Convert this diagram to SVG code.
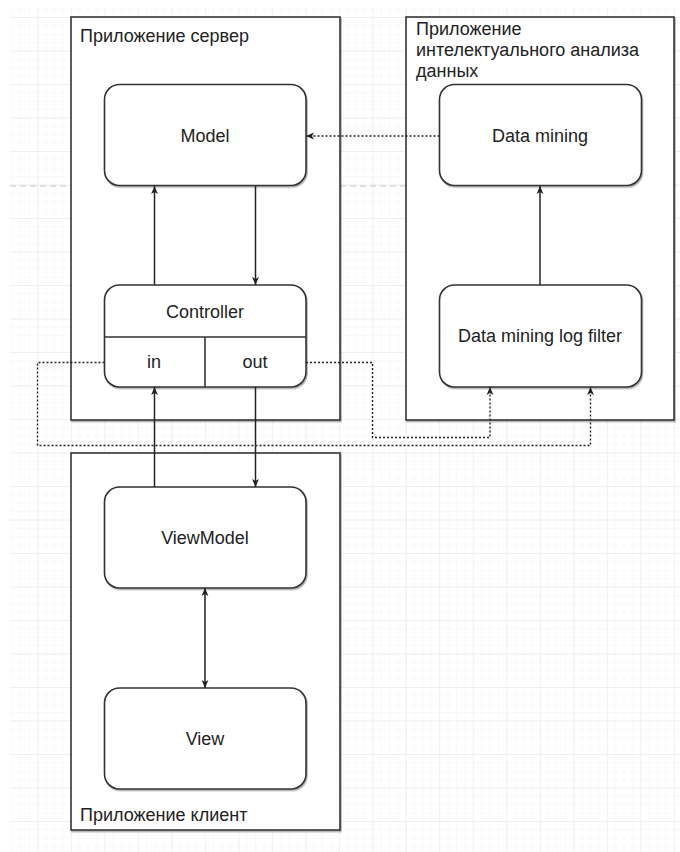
<svg xmlns="http://www.w3.org/2000/svg" width="680" height="852" viewBox="0 0 680 852">
  <defs>
    <pattern id="gridMinor" patternUnits="userSpaceOnUse" x="37.3" y="17" width="8.375" height="8.375">
      <path d="M0,0 H8.375 M0,0 V8.375" fill="none" stroke="#f3f3f3" stroke-width="1"/>
    </pattern>
    <pattern id="gridMajor" patternUnits="userSpaceOnUse" x="37.3" y="17" width="33.5" height="33.5">
      <path d="M0,0 H33.5 M0,0 V33.5" fill="none" stroke="#e6e6e6" stroke-width="1"/>
    </pattern>
    <filter id="shadow" x="-5%" y="-5%" width="115%" height="115%">
      <feDropShadow dx="1" dy="1.5" stdDeviation="0.7" flood-color="#000" flood-opacity="0.3"/>
    </filter>
    <marker id="arrow" viewBox="0 0 8 8" markerUnits="userSpaceOnUse" markerWidth="8" markerHeight="8" refX="8" refY="4" orient="auto-start-reverse">
      <path d="M0,0.6 L8,4 L0,7.4 L2,4 Z" fill="#222"/>
    </marker>
  </defs>
  <style>
    .container { fill: #ffffff; stroke: #333333; stroke-width: 1.6; }
    .node { fill: #ffffff; stroke: #333333; stroke-width: 1.6; }
    .divider { fill: none; stroke: #333333; stroke-width: 1.6; }
    .title { font-family: "Liberation Sans", Arial, sans-serif; font-size: 18px; fill: #222222; }
    .label { font-family: "Liberation Sans", Arial, sans-serif; font-size: 18px; fill: #222222; text-anchor: middle; }
    .link { fill: none; stroke: #222222; stroke-width: 1.5; marker-end: url(#arrow); }
    .dotted { fill: none; stroke: #222222; stroke-width: 1.4; stroke-dasharray: 2 2; }
  </style>

  <!-- canvas background with grid -->
  <rect x="0" y="0" width="680" height="852" fill="#ffffff"/>
  <rect x="10" y="8" width="670" height="844" fill="url(#gridMinor)"/>
  <rect x="10" y="8" width="670" height="844" fill="url(#gridMajor)"/>
  <!-- page break -->
  <line x1="10" y1="186" x2="680" y2="186" stroke="#c4c4c4" stroke-width="1" stroke-dasharray="6 4"/>

  <!-- application containers -->
  <g id="server-app">
    <rect class="container" x="71" y="17" width="269" height="403" filter="url(#shadow)"/>
    <text class="title" x="80" y="42">Приложение сервер</text>
  </g>
  <g id="mining-app">
    <rect class="container" x="406" y="17" width="268" height="403" filter="url(#shadow)"/>
    <text class="title" x="416" y="35">Приложение</text>
    <text class="title" x="416" y="56">интелектуального анализа</text>
    <text class="title" x="416" y="77">данных</text>
  </g>
  <g id="client-app">
    <rect class="container" x="71" y="453" width="269" height="377" filter="url(#shadow)"/>
    <text class="title" x="80" y="821">Приложение клиент</text>
  </g>

  <!-- nodes -->
  <g id="model">
    <rect class="node" x="104.5" y="84.5" width="201.5" height="101" rx="15" filter="url(#shadow)"/>
    <text class="label" x="205" y="141.5">Model</text>
  </g>
  <g id="data-mining">
    <rect class="node" x="439.5" y="84.5" width="202" height="101" rx="15" filter="url(#shadow)"/>
    <text class="label" x="540" y="141.5">Data mining</text>
  </g>
  <g id="controller">
    <rect class="node" x="104.5" y="285" width="201.5" height="102" rx="15" filter="url(#shadow)"/>
    <path class="divider" d="M104.5,337 H306 M205,337 V387"/>
    <text class="label" x="205" y="318">Controller</text>
    <text class="label" x="154" y="368">in</text>
    <text class="label" x="255" y="368">out</text>
  </g>
  <g id="log-filter">
    <rect class="node" x="439.5" y="285" width="202" height="102" rx="15" filter="url(#shadow)"/>
    <text class="label" x="540" y="341.5">Data mining log filter</text>
  </g>
  <g id="viewmodel">
    <rect class="node" x="104.5" y="487" width="201.5" height="101" rx="15" filter="url(#shadow)"/>
    <text class="label" x="205" y="544">ViewModel</text>
  </g>
  <g id="view">
    <rect class="node" x="104.5" y="688" width="201.5" height="101" rx="15" filter="url(#shadow)"/>
    <text class="label" x="205" y="745">View</text>
  </g>

  <!-- connectors -->
  <g id="connectors">
    <path class="link" d="M154.5,285 V186"/>
    <path class="link" d="M255.5,186 V285"/>
    <path class="link" d="M540,285 V186"/>
    <path class="link" d="M154.5,487 V387"/>
    <path class="link" d="M255.5,387 V487"/>
    <path class="link" d="M205,588 V688" marker-start="url(#arrow)"/>
    <path class="dotted" d="M439.5,136 H306" marker-end="url(#arrow)"/>
    <path class="dotted" d="M104.5,362.5 H37.5 V445.5 H590.5 V387" marker-end="url(#arrow)"/>
    <path class="dotted" d="M306,362.5 H372.5 V437.5 H490 V387" marker-end="url(#arrow)"/>
  </g>
</svg>
